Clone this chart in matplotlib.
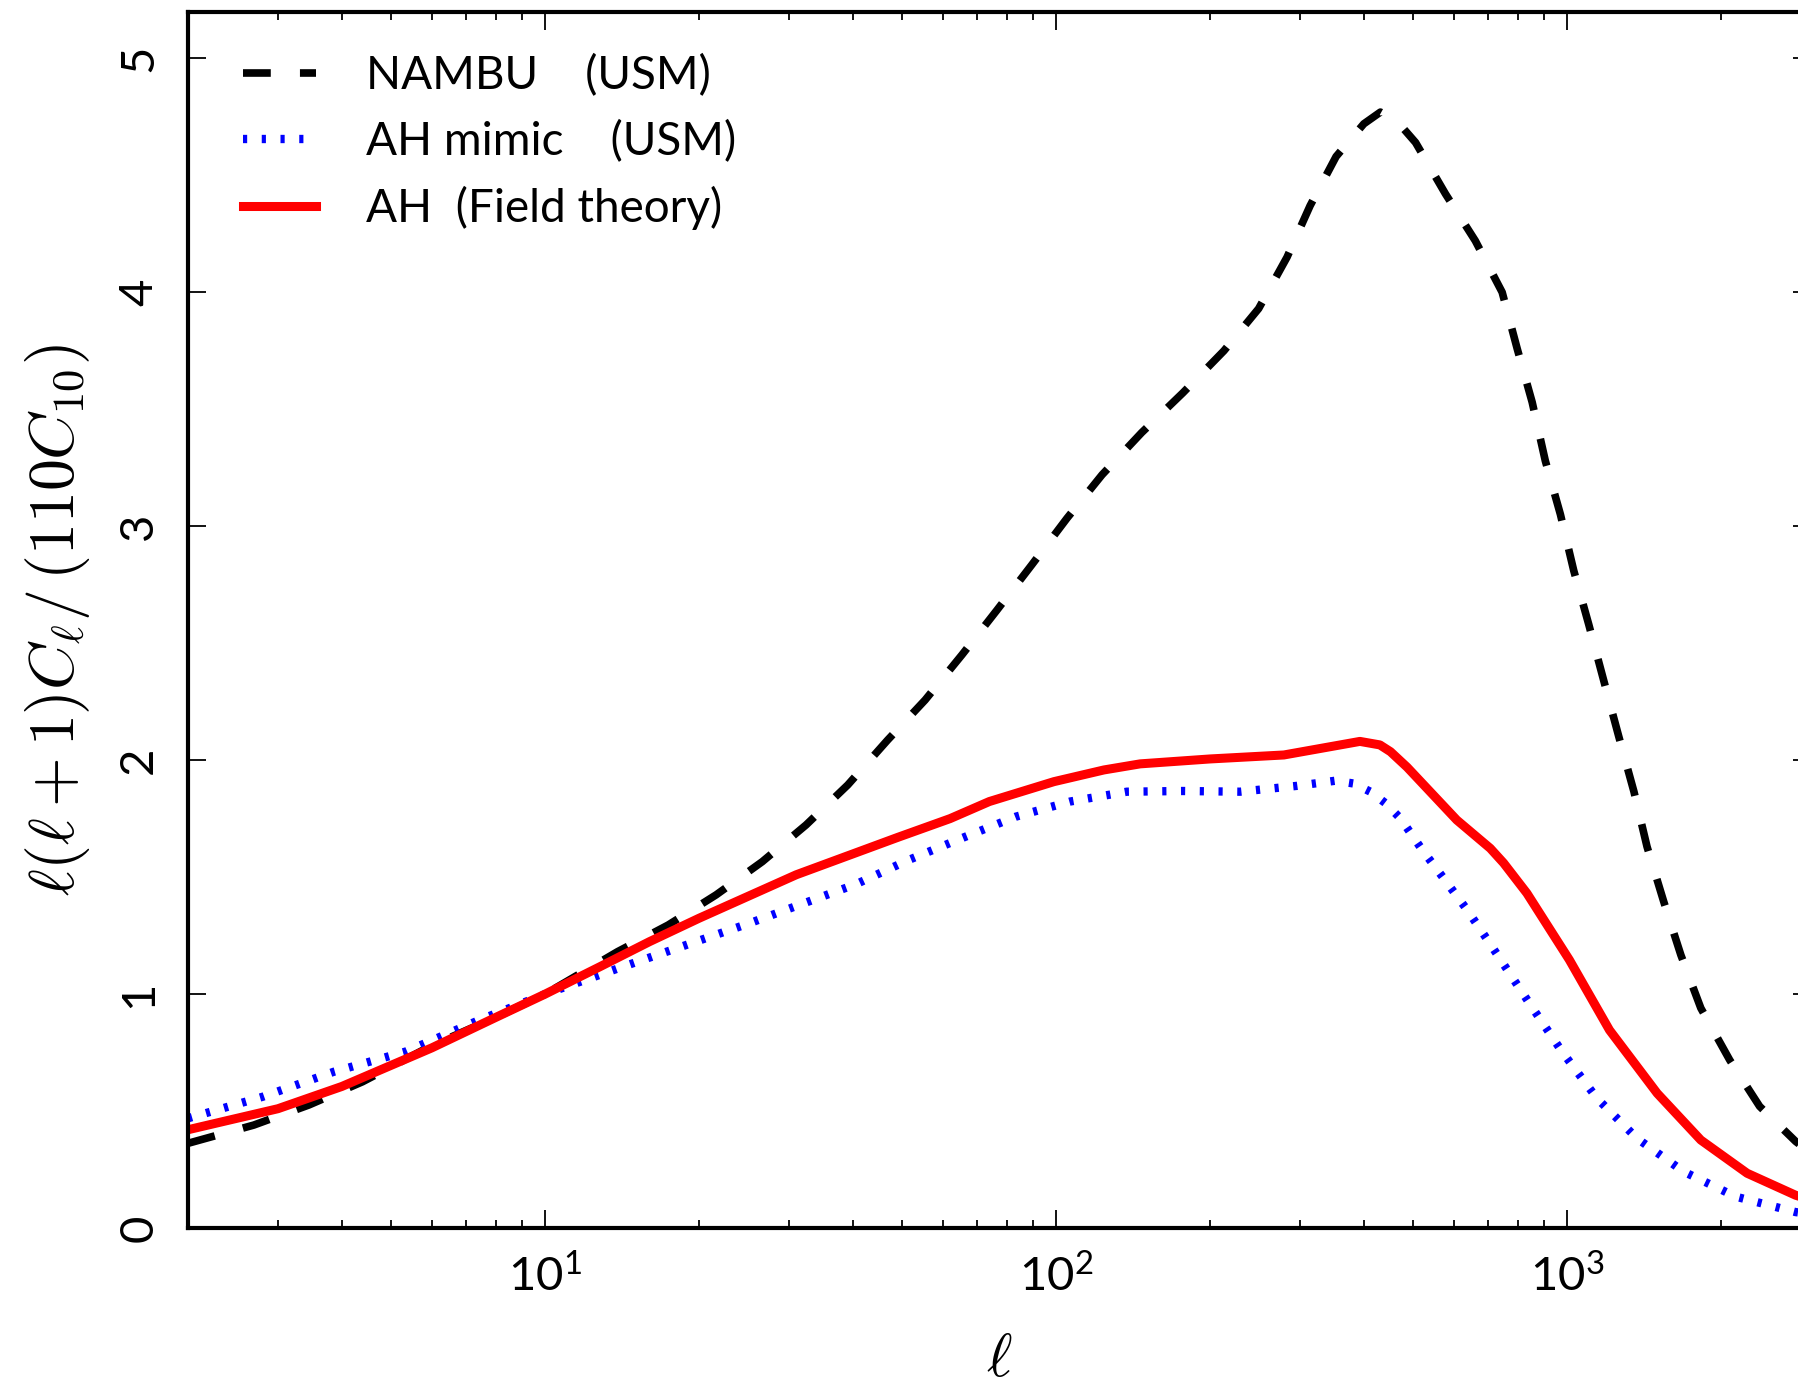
import numpy as np
import matplotlib
matplotlib.use('Agg')
import matplotlib.pyplot as plt
from matplotlib.ticker import LogLocator, FuncFormatter, NullFormatter, FixedLocator

plt.rcParams['mathtext.fontset'] = 'cm'
# sans fonts used by the tick labels (math_fontfamily='custom')
plt.rcParams['mathtext.rm'] = 'Lato'
plt.rcParams['mathtext.it'] = 'Lato:italic'
plt.rcParams['lines.scale_dashes'] = False

## NAMBU (USM)
ell_nambu = [2, 2.69, 3.45, 4.39, 6, 8, 10, 13.85, 17.4, 21.6, 26.6, 32.4, 39.1,
             46.8, 55.4, 65.4, 76.5, 89.6, 105, 123, 147, 177, 213, 249, 283,
             314, 353, 400, 431, 465, 505, 578, 661, 746, 798, 854, 906, 970,
             1030, 1102, 1179, 1262, 1351, 1433, 1545, 1669, 1826, 2080, 2380,
             2800, 3000]
cl_nambu = [0.362, 0.44, 0.526, 0.625, 0.78, 0.90, 1.0, 1.181, 1.295, 1.424,
            1.566, 1.723, 1.894, 2.086, 2.257, 2.45, 2.64, 2.835, 3.034, 3.22,
            3.40, 3.57, 3.75, 3.93, 4.15, 4.37, 4.58, 4.72, 4.77, 4.73, 4.64,
            4.42, 4.22, 4.00, 3.76, 3.53, 3.28, 3.05, 2.81, 2.58, 2.34, 2.10,
            1.865, 1.63, 1.395, 1.167, 0.94, 0.718, 0.52, 0.37, 0.32]

## AH mimic (USM)
ell_mimic = [2, 2.8, 3.86, 5.33, 7.43, 10, 14.2, 24.9, 40.6, 51.4, 65.3, 83.3,
             106.5, 137.5, 177, 229, 296, 352, 382, 412, 441, 472, 519, 573,
             637, 702, 848, 977, 1144, 1370, 1690, 2137, 2800, 3000]
cl_mimic = [0.469, 0.561, 0.668, 0.754, 0.889, 1.0, 1.117, 1.30, 1.47, 1.573,
            1.666, 1.758, 1.823, 1.865, 1.868, 1.865, 1.89, 1.912, 1.90, 1.865,
            1.816, 1.75, 1.62, 1.495, 1.36, 1.224, 0.953, 0.754, 0.554, 0.383,
            0.241, 0.134, 0.068, 0.06]

## AH (field theory)
ell_ah = [2, 3, 4, 6, 8, 10, 12.8, 16, 20, 31, 49, 62, 74, 99, 124, 146, 200,
          279, 393, 430, 451, 486, 608, 707, 751, 834, 1010, 1210, 1500, 1826,
          2250, 2800, 3000]
cl_ah = [0.42, 0.51, 0.605, 0.77, 0.90, 1.0, 1.117, 1.224, 1.324, 1.51, 1.67,
         1.75, 1.823, 1.908, 1.958, 1.984, 2.005, 2.022, 2.08, 2.065, 2.036,
         1.97, 1.744, 1.623, 1.56, 1.431, 1.146, 0.846, 0.576, 0.376, 0.234,
         0.14, 0.12]

labels = ['NAMBU    (USM)', 'AH mimic    (USM)', 'AH  (Field theory)']
yticks = [0, 1, 2, 3, 4, 5]

fig = plt.figure(figsize=(17.98, 13.88), dpi=100)
ax = fig.add_axes([0.10456, 0.11527, 0.90267, 0.87644])

ax.plot(ell_nambu, cl_nambu, color='black', lw=5.5, dashes=(20, 21), label=labels[0])
ax.plot(ell_mimic, cl_mimic, color='blue', lw=6, dashes=(3, 10.5), label=labels[1])
ax.plot(ell_ah, cl_ah, color='red', lw=6.5, label=labels[2])

ax.set_xscale('log')
ax.set_xlim(2, 3000)
ax.set_ylim(0, 5.2)

ax.xaxis.set_major_locator(LogLocator(base=10))
ax.xaxis.set_minor_locator(LogLocator(base=10, subs=np.arange(2, 10)))
ax.xaxis.set_major_formatter(FuncFormatter(
    lambda v, p: r'$10^{%d}$' % int(round(np.log10(v)))))
ax.xaxis.set_minor_formatter(NullFormatter())

ax.yaxis.set_major_locator(FixedLocator(yticks))
ax.set_yticklabels([str(t) for t in yticks], rotation=90, va='center',
                   family='Lato')

ax.tick_params(which='both', direction='in', top=True, right=True, width=1.3)
ax.tick_params(which='major', length=13, labelsize=34)
ax.tick_params(which='minor', length=6)
ax.tick_params(axis='x', pad=20)
ax.tick_params(axis='y', pad=20)

for lbl in ax.get_xticklabels():
    lbl.set_math_fontfamily('custom')

for s in ax.spines.values():
    s.set_linewidth(3)

ax.set_xlabel(r'$\ell$', fontsize=44, va='center')
ax.xaxis.set_label_coords(0.5, -0.108)
ax.set_ylabel(r'$\ell(\ell+1)C_{\ell}/\,(110C_{10})$', fontsize=46, va='center')
ax.yaxis.set_label_coords(-0.0807, 0.5)

ax.legend(loc='upper left', bbox_to_anchor=(0.0339, 0.9652), frameon=False,
          prop={'family': 'Lato', 'size': 33}, borderpad=0, borderaxespad=0,
          handlelength=1.59, handletextpad=1.09, labelspacing=0.505)

fig.savefig('out.png', dpi=100)
